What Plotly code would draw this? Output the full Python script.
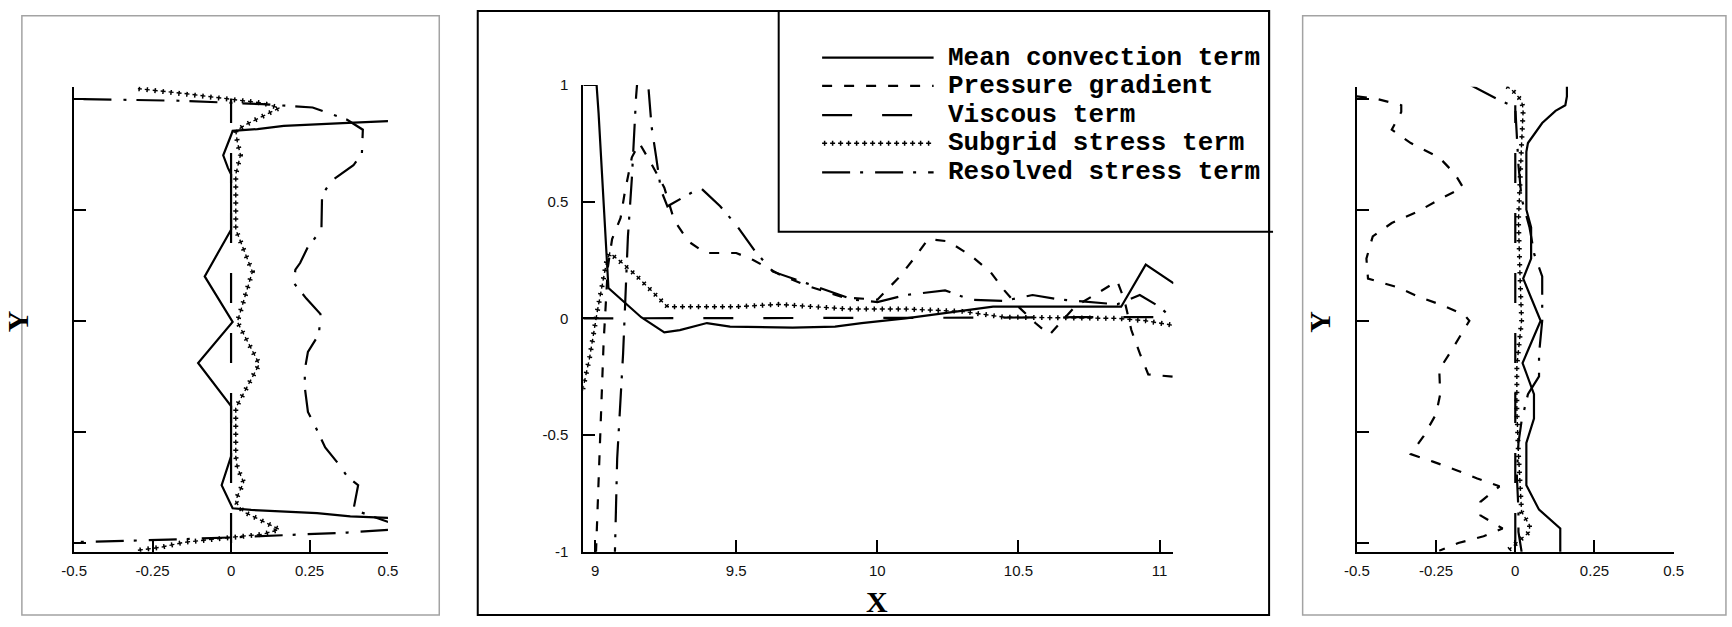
import plotly.graph_objects as go

W, H = 1732, 627

# ---------------- data ----------------
# Centre panel: budget terms along X (x = X, y = term value)
mid_conv_x = [8.958, 9.005, 9.012, 9.029, 9.047, 9.163, 9.245, 9.30, 9.396, 9.478, 9.70, 9.85, 9.944,
              10.10, 10.34, 10.41, 10.864, 10.951, 11.05]
mid_conv_y = [1.0, 1.0, 0.88, 0.52, 0.13, 0.005, -0.06, -0.05, -0.02, -0.035, -0.04, -0.035, -0.02,
              0.0, 0.04, 0.05, 0.05, 0.23, 0.15]

mid_pres_x = [9.0, 9.02, 9.03, 9.045, 9.06, 9.09, 9.105, 9.13, 9.157, 9.20, 9.245, 9.28, 9.33, 9.39,
              9.50, 9.56, 9.65, 9.75, 9.88, 10.0, 10.08, 10.132, 10.18, 10.25, 10.33, 10.40, 10.45,
              10.50, 10.56, 10.61, 10.70, 10.81, 10.85, 10.875, 10.90, 10.93, 10.96, 11.05]
mid_pres_y = [-1.1, -0.45, -0.1, 0.22, 0.34, 0.43, 0.54, 0.69, 0.75, 0.66, 0.56, 0.42, 0.33, 0.28,
              0.28, 0.25, 0.19, 0.14, 0.09, 0.08, 0.18, 0.26, 0.34, 0.33, 0.27, 0.20, 0.12,
              0.05, -0.02, -0.07, 0.05, 0.13, 0.16, 0.08, -0.05, -0.15, -0.24, -0.25]

mid_visc_x = [8.958, 9.2, 9.5, 9.8, 10.1, 10.4, 10.7, 10.87, 11.05]
mid_visc_y = [0.0, 0.0, 0.0, 0.0, 0.0, 0.003, 0.005, 0.005, 0.005]

mid_sgs_x = [8.955, 8.98, 9.006, 9.023, 9.04, 9.052, 9.093, 9.14, 9.198, 9.256, 9.50, 9.65, 9.90,
             10.10, 10.30, 10.45, 10.85, 10.95, 11.05]
mid_sgs_y = [-0.31, -0.17, 0.02, 0.13, 0.24, 0.28, 0.24, 0.19, 0.12, 0.05, 0.05, 0.06, 0.04,
             0.04, 0.03, 0.005, 0.0, -0.01, -0.03]

mid_res_x = [9.068, 9.078, 9.099, 9.116, 9.13, 9.145, 9.168, 9.188, 9.20, 9.215, 9.233, 9.256, 9.30,
             9.373, 9.443, 9.50, 9.565, 9.63, 9.75, 9.915, 10.0, 10.1, 10.24, 10.33, 10.45, 10.55,
             10.65, 10.75, 10.85, 10.93, 11.0, 11.04]
mid_res_y = [-1.1, -0.6, -0.15, 0.35, 0.6, 0.95, 1.3, 0.98, 0.82, 0.70, 0.55, 0.48, 0.51,
             0.56, 0.48, 0.40, 0.29, 0.20, 0.15, 0.08, 0.07, 0.10, 0.12, 0.08, 0.075, 0.10,
             0.08, 0.07, 0.06, 0.10, 0.05, 0.005]

# Left panel: profiles across Y (x = term value, y = Y)
lft_conv_y = [0.90, 0.899, 0.89, 0.877, 0.863, 0.855, 0.835, 0.76, 0.745, 0.688, 0.66, 0.41, 0.20,
              -0.005, -0.19, -0.384, -0.61, -0.74, -0.844, -0.851, -0.866, -0.88, -0.89]
lft_conv_x = [0.56, 0.50, 0.356, 0.168, 0.084, 0.005, 0.0, -0.02, -0.025, -0.01, 0.0, 0.0, -0.084,
              0.005, -0.105, 0.0, 0.0, -0.03, 0.005, 0.064, 0.274, 0.38, 0.56]

lft_visc_y = [-1.0, -0.95, -0.5, 0.0, 0.5, 0.95, 1.0]
lft_visc_x = [0.0, 0.0, 0.0, 0.0, 0.0, 0.0, 0.0]

lft_sgs_y = [-1.033, -1.019, -0.997, -0.983, -0.97, -0.961, -0.939, -0.917, -0.888, -0.859, -0.815,
             -0.79, -0.727, -0.66, -0.61, -0.392, -0.195, -0.005, 0.221, 0.411, 0.659, 0.746, 0.805,
             0.855, 0.885, 0.921, 0.958, 0.980, 0.994, 1.009, 1.023, 1.045]
lft_sgs_x = [-0.297, -0.223, -0.15, -0.066, 0.03, 0.10, 0.154, 0.123, 0.081, 0.039, 0.015,
             0.02, 0.04, 0.02, 0.015, 0.015, 0.09, 0.02, 0.068, 0.015, 0.015, 0.03, 0.02,
             0.015, 0.05, 0.10, 0.154, 0.10, 0.02, -0.066, -0.15, -0.297]

lft_res_y = [-1.0, -0.995, -0.985, -0.975, -0.962, -0.953, -0.935, -0.85, -0.74, -0.70, -0.64, -0.57,
             -0.48, -0.41, -0.30, -0.22, -0.14, -0.06, 0.03, 0.10, 0.17, 0.23, 0.26, 0.33, 0.41,
             0.50, 0.565, 0.63, 0.70, 0.754, 0.86, 0.905, 0.96, 0.975, 0.99, 0.995, 1.0]
lft_res_x = [-0.6, -0.45, -0.2, 0.0, 0.2, 0.37, 0.56, 0.39, 0.405, 0.37, 0.34, 0.30,
             0.27, 0.245, 0.235, 0.235, 0.245, 0.28, 0.285, 0.24, 0.20, 0.205, 0.22, 0.244, 0.288,
             0.288, 0.29, 0.32, 0.39, 0.417, 0.42, 0.37, 0.26, 0.1, -0.15, -0.35, -0.6]

# Right panel: profiles across Y (x = term value, y = Y)
rgt_conv_y = [1.062, 1.01, 0.97, 0.945, 0.89, 0.84, 0.80, 0.76, 0.50, 0.42, 0.28, 0.19, 0.0,
              -0.19, -0.33, -0.44, -0.55, -0.74, -0.85, -0.935, -1.06]
rgt_conv_x = [0.163, 0.163, 0.158, 0.127, 0.085, 0.06, 0.04, 0.035, 0.035, 0.05, 0.05, 0.025, 0.08,
              0.023, 0.059, 0.059, 0.035, 0.035, 0.075, 0.142, 0.142]

rgt_pres_y = [1.01, 1.0, 0.97, 0.94, 0.86, 0.80, 0.735, 0.66, 0.60, 0.55, 0.49, 0.44, 0.38, 0.28,
              0.19, 0.15, 0.105, 0.07, 0.026, 0.0, -0.13, -0.22, -0.33, -0.42, -0.52, -0.60,
              -0.634, -0.67, -0.71, -0.745, -0.815, -0.876, -0.935, -0.97, -1.0, -1.035]
rgt_pres_x = [-0.50, -0.44, -0.36, -0.36, -0.39, -0.33, -0.24, -0.19, -0.165, -0.235, -0.31, -0.39,
              -0.45, -0.47, -0.465, -0.37, -0.30, -0.23, -0.16, -0.145, -0.20, -0.24, -0.237, -0.25,
              -0.29, -0.33, -0.26, -0.19, -0.12, -0.05, -0.11, -0.11, -0.04, -0.10, -0.18, -0.24]

rgt_visc_y = [-1.0, -0.5, 0.0, 0.5, 0.97]
rgt_visc_x = [0.0, 0.0, 0.0, 0.0, 0.0]

rgt_sgs_y = [1.06, 1.03, 0.99, 0.95, 0.8, 0.6, 0.45, 0.2, 0.0, -0.2, -0.4, -0.6, -0.75, -0.86,
             -0.92, -0.95, -0.98, -1.03]
rgt_sgs_x = [-0.03, -0.004, 0.02, 0.025, 0.02, 0.015, 0.01, 0.015, 0.02, 0.005, 0.005, 0.01, 0.015,
             0.02, 0.045, 0.045, 0.02, -0.02]

rgt_res_y = [1.06, 1.0, 0.96, 0.85, 0.7, 0.55, 0.42, 0.30, 0.20, 0.0, -0.15, -0.25, -0.33, -0.45,
             -0.55, -0.7, -0.85, -0.95, -1.04]
rgt_res_x = [-0.14, -0.06, 0.0, 0.005, 0.01, 0.02, 0.045, 0.06, 0.085, 0.085, 0.075, 0.075, 0.04,
             0.02, 0.01, 0.005, 0.01, 0.01, 0.02]

legend_labels = ["Mean convection term", "Pressure gradient", "Viscous term",
                 "Subgrid stress term", "Resolved stress term"]

side_xticks = [-0.5, -0.25, 0, 0.25, 0.5]
side_xtext = ["-0.5", "-0.25", "0", "0.25", "0.5"]
mid_xticks = [9, 9.5, 10, 10.5, 11]
mid_xtext = ["9", "9.5", "10", "10.5", "11"]
mid_yticks = [-1, -0.5, 0, 0.5, 1]
mid_ytext = ["-1", "-0.5", "0", "0.5", "1"]

# ---------------- styles ----------------
LW = 2.2
DASH_PRES = "10px,12px"
DASH_VISC = "30px,30px"
DASH_RES = "28px,10px,3px,12px"
# "+" chain: short bars along the path and perpendicular ticks centred on them
PLUS_BAR = "5px,3px"
PLUS_TICK = "0px,1.75px,1.5px,4.75px"


def px(x):
    return x / W


def py(y):
    return 1 - y / H


fig = go.Figure()


def add_line(xs, ys, axis, dash="solid"):
    fig.add_trace(go.Scatter(x=xs, y=ys, mode="lines", xaxis="x" + axis, yaxis="y" + axis,
                             line=dict(color="black", width=LW, dash=dash),
                             hoverinfo="skip", showlegend=False))


def add_plus_line(xs, ys, axis):
    fig.add_trace(go.Scatter(x=xs, y=ys, mode="lines", xaxis="x" + axis, yaxis="y" + axis,
                             line=dict(color="black", width=1.4, dash=PLUS_BAR),
                             hoverinfo="skip", showlegend=False))
    fig.add_trace(go.Scatter(x=xs, y=ys, mode="lines", xaxis="x" + axis, yaxis="y" + axis,
                             line=dict(color="black", width=5, dash=PLUS_TICK),
                             hoverinfo="skip", showlegend=False))


# left panel
add_line(lft_conv_x, lft_conv_y, "")
add_line(lft_visc_x, lft_visc_y, "", DASH_VISC)
add_plus_line(lft_sgs_x, lft_sgs_y, "")
add_line(lft_res_x, lft_res_y, "", DASH_RES)

# centre panel
add_line(mid_conv_x, mid_conv_y, "2")
add_line(mid_pres_x, mid_pres_y, "2", DASH_PRES)
add_line(mid_visc_x, mid_visc_y, "2", DASH_VISC)
add_plus_line(mid_sgs_x, mid_sgs_y, "2")
add_line(mid_res_x, mid_res_y, "2", DASH_RES)

# right panel
add_line(rgt_conv_x, rgt_conv_y, "3")
add_line(rgt_pres_x, rgt_pres_y, "3", DASH_PRES)
add_line(rgt_visc_x, rgt_visc_y, "3", DASH_VISC)
add_plus_line(rgt_sgs_x, rgt_sgs_y, "3")
add_line(rgt_res_x, rgt_res_y, "3", DASH_RES)

tick_font = dict(family="Liberation Sans", size=15, color="#111111")
axis_common = dict(showline=True, linecolor="black", linewidth=2, ticks="inside", ticklen=12,
                   tickwidth=2, tickcolor="black", showgrid=False, zeroline=False,
                   tickfont=tick_font, fixedrange=True)

side_ydom = [py(558), py(80)]
fig.update_layout(
    width=W, height=H, margin=dict(l=0, r=0, t=0, b=0),
    paper_bgcolor="white", plot_bgcolor="white", showlegend=False,
    xaxis=dict(domain=[px(62), px(380)], range=[-0.5, 0.5], anchor="y",
               tickvals=side_xticks, ticktext=side_xtext, ticklabelstandoff=4, **axis_common),
    yaxis=dict(domain=side_ydom, range=[-1.04, 1.053], anchor="x",
               tickvals=mid_yticks, showticklabels=False, **axis_common),
    xaxis2=dict(domain=[px(578), px(1176)], range=[8.958, 11.049], anchor="y2",
                tickvals=mid_xticks, ticktext=mid_xtext, ticklabelstandoff=4, **axis_common),
    yaxis2=dict(domain=[py(558), py(78)], range=[-1, 1], anchor="x2",
                tickvals=mid_yticks, ticktext=mid_ytext, ticklabelstandoff=10, **axis_common),
    xaxis3=dict(domain=[px(1362), px(1683)], range=[-0.5, 0.5], anchor="y3",
                tickvals=side_xticks, ticktext=side_xtext, ticklabelstandoff=4, **axis_common),
    yaxis3=dict(domain=side_ydom, range=[-1.04, 1.053], anchor="x3",
                tickvals=mid_yticks, showticklabels=False, **axis_common),
)

shapes = []
# panel frames
shapes.append(dict(type="rect", xref="paper", yref="paper", x0=px(9), x1=px(432), y0=py(623), y1=py(7),
                   line=dict(color="#a3a3a3", width=1.5)))
shapes.append(dict(type="rect", xref="paper", yref="paper", x0=px(1307), x1=px(1736), y0=py(623), y1=py(7),
                   line=dict(color="#a3a3a3", width=1.5)))
shapes.append(dict(type="rect", xref="paper", yref="paper", x0=px(471), x1=px(1273), y0=py(623), y1=py(2),
                   line=dict(color="black", width=2)))
# legend box
shapes.append(dict(type="rect", xref="paper", yref="paper", x0=px(776), x1=px(1273), y0=py(229), y1=py(2),
                   line=dict(color="black", width=2)))
shapes.append(dict(type="line", xref="paper", yref="paper", x0=px(1273), x1=px(1277), y0=py(229), y1=py(229),
                   line=dict(color="black", width=2)))

rows = [50, 79, 109, 138, 168]
sample_dash = ["solid", DASH_PRES, DASH_VISC, None, DASH_RES]
for r, d in zip(rows, sample_dash):
    if d is None:
        shapes.append(dict(type="line", xref="paper", yref="paper", x0=px(820), x1=px(933),
                           y0=py(r), y1=py(r), line=dict(color="black", width=1.4, dash=PLUS_BAR)))
        shapes.append(dict(type="line", xref="paper", yref="paper", x0=px(820), x1=px(933),
                           y0=py(r), y1=py(r), line=dict(color="black", width=5, dash=PLUS_TICK)))
    else:
        shapes.append(dict(type="line", xref="paper", yref="paper", x0=px(820), x1=px(933),
                           y0=py(r), y1=py(r), line=dict(color="black", width=LW, dash=d)))
fig.update_layout(shapes=shapes)

annotations = []
for r, lab in zip(rows, legend_labels):
    annotations.append(dict(text=lab, xref="paper", yref="paper", x=px(946), y=py(r),
                            xanchor="left", yanchor="middle", showarrow=False,
                            font=dict(family="Liberation Mono", size=26, color="black", weight="bold")))

title_font = dict(family="Liberation Serif", size=30, color="black", weight="bold")
annotations.append(dict(text="X", xref="paper", yref="paper", x=px(876), y=py(609),
                        xanchor="center", yanchor="middle", showarrow=False, borderpad=0,
                        font=title_font))
for xc in (4, 1324):
    annotations.append(dict(text="Y", xref="paper", yref="paper", x=px(xc), y=py(321),
                            xanchor="center", yanchor="middle", showarrow=False, textangle=-90,
                            borderpad=0, font=title_font))
fig.update_layout(annotations=annotations)

fig.write_html("out.html")
